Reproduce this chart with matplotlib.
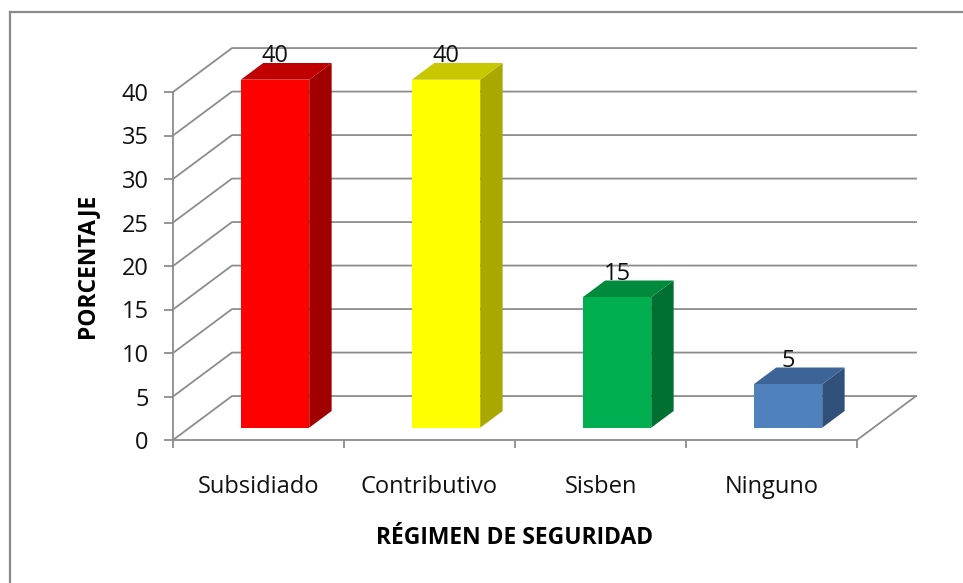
import matplotlib
matplotlib.use("Agg")
import matplotlib.pyplot as plt
from matplotlib.patches import Polygon
from matplotlib.lines import Line2D

# datos
categorias = ["Subsidiado", "Contributivo", "Sisben", "Ninguno"]
porcentajes = [40, 40, 15, 5]
yticks = [0, 5, 10, 15, 20, 25, 30, 35, 40]

# colores (frente, arriba, lado)
c_frente = ["#FF0000", "#FFFF00", "#00B050", "#4F81BD"]
c_arriba = ["#C00000", "#C8C800", "#008A3C", "#3C6496"]
c_lado = ["#A00000", "#A8A800", "#007032", "#30507A"]

plt.rcParams['font.family'] = ['Open Sans', 'DejaVu Sans']

W, H = 963, 583
fig = plt.figure(figsize=(W / 100, H / 100), dpi=100)
# eje frontal: (0,0) -> px (173,440), (4,40) -> px (857,92)
ax = fig.add_axes([173 / W, (H - 440) / H, 684 / W, 348 / H])
ax.set_xlim(0, 4)
ax.set_ylim(0, 40)
ax.patch.set_alpha(0)

DX, DY = 0.345, 5.05     # profundidad oblicua
f0, f1 = 0.28, 0.66      # profundidad de las barras
ancho = 0.40
gris = "#8C8C8C"

# pared lateral y fondo
for v in yticks:
    ax.plot([0, DX, len(categorias) + DX], [v, v + DY, v + DY],
            color=gris, lw=1.3, clip_on=False, zorder=1)
# piso
ax.plot([len(categorias), len(categorias) + DX], [0, DY], color=gris, lw=1.3,
        clip_on=False, zorder=1)

# barras 3D
for i, v in enumerate(porcentajes):
    x0 = i + 0.5 - ancho / 2 + f0 * DX
    x1 = x0 + ancho
    y0 = f0 * DY
    y1 = v + f0 * DY
    ddx = (f1 - f0) * DX
    ddy = (f1 - f0) * DY
    frente = [(x0, y0), (x1, y0), (x1, y1), (x0, y1)]
    arriba = [(x0, y1), (x1, y1), (x1 + ddx, y1 + ddy), (x0 + ddx, y1 + ddy)]
    lado = [(x1, y0), (x1 + ddx, y0 + ddy), (x1 + ddx, y1 + ddy), (x1, y1)]
    ax.add_patch(Polygon(lado, closed=True, fc=c_lado[i], ec="none", zorder=3, clip_on=False))
    ax.add_patch(Polygon(arriba, closed=True, fc=c_arriba[i], ec="none", zorder=3, clip_on=False))
    ax.add_patch(Polygon(frente, closed=True, fc=c_frente[i], ec="none", zorder=4, clip_on=False))
    ax.text(i + 0.5 + f0 * DX, v + f1 * DY + 0.1, str(v), ha="center", va="baseline",
            fontsize=17, color="#111111", zorder=5)

# ejes
for s in ["top", "right"]:
    ax.spines[s].set_visible(False)
for s in ["left", "bottom"]:
    ax.spines[s].set_color(gris)
    ax.spines[s].set_linewidth(1.3)
ax.set_yticks(yticks)
ax.tick_params(axis="y", direction="out", length=6.5, width=1.3, color=gris,
               pad=11, labelsize=17, labelcolor="#111111")
ax.set_xticks(range(len(categorias) + 1))
ax.set_xticklabels([])
ax.tick_params(axis="x", which="major", direction="out", length=6, width=1.3, color=gris)
ax.set_xticks([i + 0.5 for i in range(len(categorias))], minor=True)
ax.set_xticklabels(categorias, minor=True)
ax.tick_params(axis="x", which="minor", length=0, pad=25, labelsize=17, labelcolor="#111111")

ax.set_ylabel("PORCENTAJE", fontsize=16.5, fontweight="bold", labelpad=16)
ax.set_xlabel("RÉGIMEN DE SEGURIDAD", fontsize=16.5, fontweight="bold", labelpad=20)

# borde del area del grafico
fig.add_artist(Line2D([10 / W, 1], [1 - 12 / H, 1 - 12 / H], color="#8A8A8A", lw=1.6))
fig.add_artist(Line2D([10 / W, 10 / W], [0, 1 - 12 / H], color="#8A8A8A", lw=1.6))

fig.savefig("out.png", dpi=100)
